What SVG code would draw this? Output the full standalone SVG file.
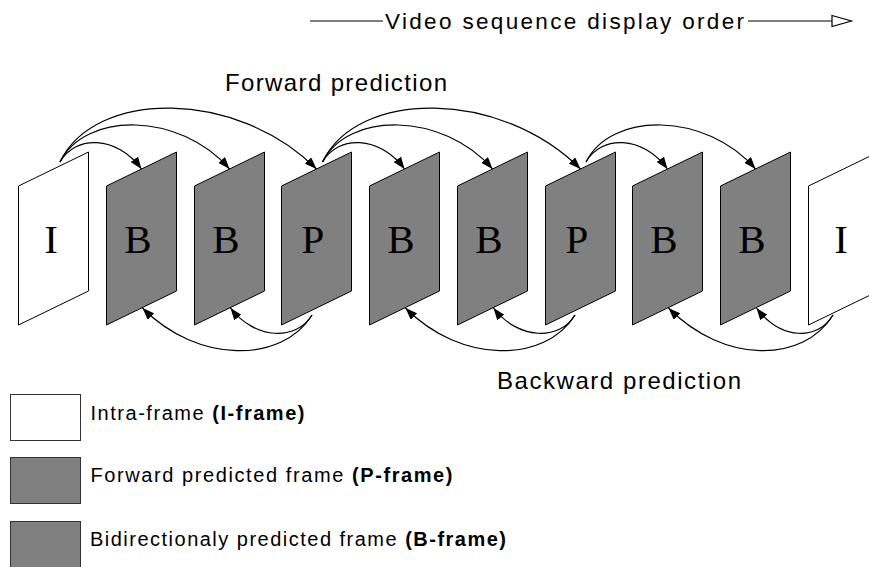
<svg xmlns="http://www.w3.org/2000/svg" width="869" height="567" viewBox="0 0 869 567">
<style>
.gray{fill:#808080;stroke:#000;stroke-width:1}
.white{fill:#fff;stroke:#000;stroke-width:1}
.lbl{font-family:"Liberation Serif","Times New Roman",serif;font-size:41px;fill:#000;text-anchor:middle}
.arc{fill:none;stroke:#000;stroke-width:1.2;marker-end:url(#ah)}
.txt{font-family:"Liberation Sans",Arial,sans-serif;fill:#000}
.b{font-weight:bold}
.leg{stroke:#333;stroke-width:1}
</style>
<defs>
<marker id="ah" viewBox="0 0 12 9" refX="12" refY="4.5" markerWidth="12" markerHeight="9" markerUnits="userSpaceOnUse" orient="auto">
<path d="M0,0 L12,4.5 L0,9 z" fill="#000"/>
</marker>
</defs>
<rect width="869" height="567" fill="#fff"/>

<g id="title">
<line x1="310" y1="21" x2="383" y2="21" stroke="#000" stroke-width="1.2"/>
<text class="txt" x="385" y="28.5" font-size="22.5" textLength="359" lengthAdjust="spacing">Video sequence display order</text>
<line x1="748" y1="21" x2="832" y2="21" stroke="#000" stroke-width="1.2"/>
<path d="M832,15.5 L851.5,21 L832,26.5 z" fill="#fff" stroke="#000" stroke-width="1.2"/>
</g>

<g id="forward-label"><text class="txt" x="225" y="90.5" font-size="24" textLength="222" lengthAdjust="spacing">Forward prediction</text></g>
<g id="backward-label"><text class="txt" x="497" y="389" font-size="24" textLength="244" lengthAdjust="spacing">Backward prediction</text></g>

<g id="frame-I1"><path class="white" d="M18.5,186 L88.5,152 L88.5,291 L18.5,325 z"/><text class="lbl" x="51" y="253">I</text></g>
<g id="frame-B1"><path class="gray" d="M106.5,186 L176.5,152 L176.5,291 L106.5,325 z"/><text class="lbl" x="138" y="253">B</text></g>
<g id="frame-B2"><path class="gray" d="M194.5,186 L264.5,152 L264.5,291 L194.5,325 z"/><text class="lbl" x="226" y="253">B</text></g>
<g id="frame-P1"><path class="gray" d="M281.5,186 L351.5,152 L351.5,291 L281.5,325 z"/><text class="lbl" x="313" y="253">P</text></g>
<g id="frame-B3"><path class="gray" d="M369.5,186 L439.5,152 L439.5,291 L369.5,325 z"/><text class="lbl" x="401" y="253">B</text></g>
<g id="frame-B4"><path class="gray" d="M457.5,186 L527.5,152 L527.5,291 L457.5,325 z"/><text class="lbl" x="489" y="253">B</text></g>
<g id="frame-P2"><path class="gray" d="M545.5,186 L615.5,152 L615.5,291 L545.5,325 z"/><text class="lbl" x="577" y="253">P</text></g>
<g id="frame-B5"><path class="gray" d="M632.5,186 L702.5,152 L702.5,291 L632.5,325 z"/><text class="lbl" x="664" y="253">B</text></g>
<g id="frame-B6"><path class="gray" d="M720.5,186 L790.5,152 L790.5,291 L720.5,325 z"/><text class="lbl" x="752" y="253">B</text></g>
<g id="frame-I2"><path class="white" d="M808.5,186 L878.5,152 L878.5,291 L808.5,325 z"/><text class="lbl" x="841" y="253">I</text></g>

<g id="connectors">
<path class="arc" d="M60,162 C75,135 116.5,135 141.5,169"/>
<path class="arc" d="M60,162 C85,111.5 179.5,111.5 229.5,169"/>
<path class="arc" d="M60,162 C95,89 236.5,89 316.5,169"/>
<path class="arc" d="M322.5,162 C337.5,135 379.5,135 404.5,169"/>
<path class="arc" d="M322.5,162 C347.5,111.5 442.5,111.5 492.5,169"/>
<path class="arc" d="M322.5,162 C357.5,89 500.5,89 580.5,169"/>
<path class="arc" d="M586,162 C601,135 642.5,135 667.5,169"/>
<path class="arc" d="M586,162 C611,111.5 705.5,111.5 755.5,169"/>
<path class="arc" d="M312,315 C297,340.5 255.5,340.5 230.5,308"/>
<path class="arc" d="M312,315 C282,363.7 197.5,363.7 142.5,308"/>
<path class="arc" d="M575,315 C560,340.5 518.5,340.5 493.5,308"/>
<path class="arc" d="M575,315 C545,363.7 460.5,363.7 405.5,308"/>
<path class="arc" d="M833,315 C818,340.5 781.5,340.5 756.5,308"/>
<path class="arc" d="M833,315 C803,363.7 723.5,363.7 668.5,308"/>
</g>

<g id="legend-I"><rect class="leg" x="10.5" y="394.5" width="70" height="46" fill="#fff"/>
<text class="txt" x="90.5" y="419.5" font-size="20" textLength="214" lengthAdjust="spacing">Intra-frame <tspan class="b">(I-frame)</tspan></text></g>
<g id="legend-P"><rect class="leg" x="10.5" y="457.5" width="70" height="46" fill="#808080"/>
<text class="txt" x="90.5" y="482" font-size="20" textLength="362" lengthAdjust="spacing">Forward predicted frame <tspan class="b">(P-frame)</tspan></text></g>
<g id="legend-B"><rect class="leg" x="10.5" y="521.5" width="70" height="47" fill="#808080"/>
<text class="txt" x="90" y="546" font-size="20" textLength="416" lengthAdjust="spacing">Bidirectionaly predicted frame <tspan class="b">(B-frame)</tspan></text></g>
</svg>
